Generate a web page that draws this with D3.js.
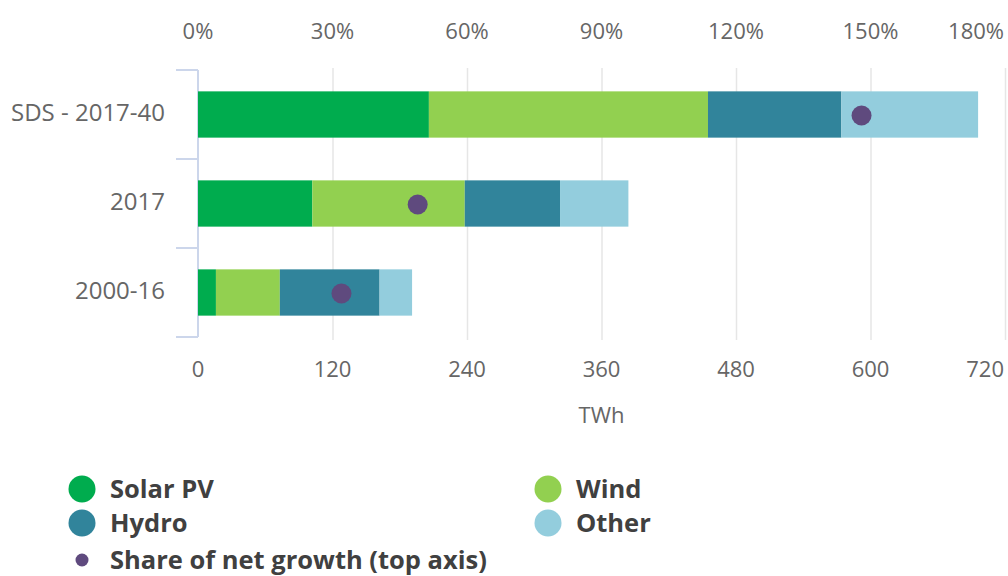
<!DOCTYPE html>
<html>
<head>
<meta charset="utf-8">
<script src="https://cdn.jsdelivr.net/npm/d3@7"></script>
<style>
  body { margin: 0; background: #fff; }
  svg { display: block; font-family: "Open Sans", sans-serif; }
</style>
</head>
<body>
<svg id="chart" width="1008" height="576"></svg>
<script>
// chart data
const categories = ['SDS - 2017-40', '2017', '2000-16']
const seriesNames = ['Solar PV', 'Wind', 'Hydro', 'Other']
const solarPV = [206, 102, 16]
const wind = [249, 136, 57]
const hydro = [119, 85, 89]
const other = [122, 61, 29]
const shareOfGrowth = [148, 49, 32] // percent, top axis
const bottomTicks = [0, 120, 240, 360, 480, 600, 720]
const topTicks = [0, 30, 60, 90, 120, 150, 180]

const colors = {
  'Solar PV': '#00ac4e',
  'Wind': '#92d050',
  'Hydro': '#31849b',
  'Other': '#93cddd'
}
const dotColor = '#5f4a7e'

const svg = d3.select('#chart')

// scales
const x = d3.scaleLinear().domain([0, 720]).range([198, 1005])
const xTop = d3.scaleLinear().domain([0, 180]).range([198, 1005])
const y = d3.scaleBand()
  .domain(categories)
  .range([70, 337])
  .paddingInner(0.48)
  .paddingOuter(0.24)

// vertical gridlines
svg.append('g')
  .selectAll('line')
  .data(bottomTicks.slice(1))
  .join('line')
  .attr('x1', d => x(d) + 0.5)
  .attr('x2', d => x(d) + 0.5)
  .attr('y1', 68)
  .attr('y2', 340)
  .attr('stroke', '#e6e6e6')
  .attr('stroke-width', 1.5)

// left category bracket
const bracket = svg.append('g').attr('stroke', '#ccd6eb').attr('stroke-width', 2)
bracket.append('line')
  .attr('x1', x(0)).attr('x2', x(0))
  .attr('y1', 70).attr('y2', 337)
bracket.selectAll('line.tick')
  .data([70, 70 + y.step(), 70 + 2 * y.step(), 337])
  .join('line')
  .attr('class', 'tick')
  .attr('x1', 176).attr('x2', x(0))
  .attr('y1', d => d).attr('y2', d => d)

// stacked bars
const rows = categories.map((c, i) => ({
  cat: c,
  'Solar PV': solarPV[i],
  'Wind': wind[i],
  'Hydro': hydro[i],
  'Other': other[i]
}))
const stacked = d3.stack().keys(seriesNames)(rows)

svg.append('g')
  .selectAll('g')
  .data(stacked)
  .join('g')
  .attr('fill', d => colors[d.key])
  .selectAll('rect')
  .data(d => d)
  .join('rect')
  .attr('x', d => x(d[0]))
  .attr('width', d => x(d[1]) - x(d[0]))
  .attr('y', d => y(d.data.cat))
  .attr('height', y.bandwidth())

// share of net growth dots
svg.append('g')
  .selectAll('circle')
  .data(shareOfGrowth)
  .join('circle')
  .attr('cx', d => xTop(d))
  .attr('cy', (d, i) => y(categories[i]) + y.bandwidth() / 2 + 1)
  .attr('r', 10)
  .attr('fill', dotColor)

// category labels
svg.append('g')
  .selectAll('text')
  .data(categories)
  .join('text')
  .attr('x', 165)
  .attr('y', d => y(d) + y.bandwidth() / 2)
  .attr('dy', '0.27em')
  .attr('text-anchor', 'end')
  .attr('font-size', 24)
  .attr('fill', '#666')
  .text(d => d)

// tick labels: last one held inside the frame
function tickLabels(scale, ticks, yPos, fmt) {
  svg.append('g')
    .selectAll('text')
    .data(ticks)
    .join('text')
    .attr('x', (d, i) => i === ticks.length - 1 ? 1004 : scale(d))
    .attr('y', yPos)
    .attr('text-anchor', (d, i) => i === ticks.length - 1 ? 'end' : 'middle')
    .attr('font-size', 22)
    .attr('fill', '#666')
    .text(fmt)
}
tickLabels(xTop, topTicks, 39, d => d + '%')
tickLabels(x, bottomTicks, 377, d => d)

svg.append('text')
  .attr('x', x(360))
  .attr('y', 423)
  .attr('text-anchor', 'middle')
  .attr('font-size', 22)
  .attr('fill', '#666')
  .text('TWh')

// legend
const legendItems = [
  { name: 'Solar PV', x: 82, y: 489, r: 13.5 },
  { name: 'Wind', x: 548, y: 489, r: 13.5 },
  { name: 'Hydro', x: 82, y: 523, r: 13.5 },
  { name: 'Other', x: 548, y: 523, r: 13.5 },
  { name: 'Share of net growth (top axis)', x: 82, y: 560, r: 6.5, dot: true }
]
const legend = svg.append('g')
  .selectAll('g')
  .data(legendItems)
  .join('g')
  .attr('transform', d => `translate(${d.x},${d.y})`)
legend.append('circle')
  .attr('r', d => d.r)
  .attr('fill', d => d.dot ? dotColor : colors[d.name])
legend.append('text')
  .attr('x', 28)
  .attr('dy', '0.35em')
  .attr('font-size', 25.5)
  .attr('font-weight', 'bold')
  .attr('fill', '#404040')
  .text(d => d.name)
</script>
</body>
</html>
